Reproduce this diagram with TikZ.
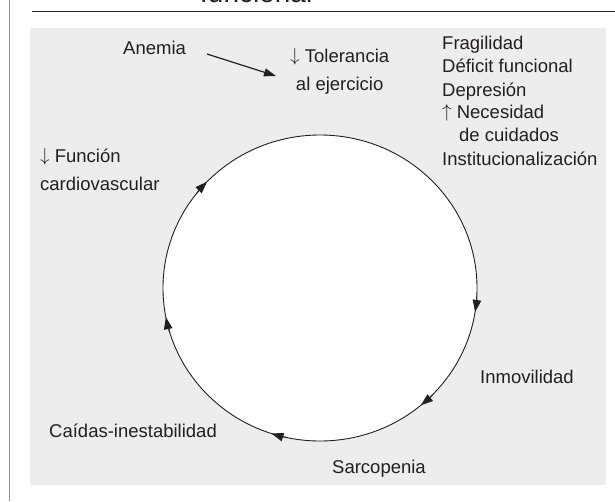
\documentclass[tikz,border=0pt]{standalone}
\usepackage{fontspec}
\usepackage{graphicx}
\setmainfont{Liberation Sans}
\usetikzlibrary{arrows.meta,calc}
\definecolor{bg}{RGB}{237,237,237}
\definecolor{ink}{RGB}{35,31,32}
\newcommand{\dn}{\raisebox{1pt}{\scalebox{1.1}[1.08]{$\downarrow$}}}
\newcommand{\upa}{\raisebox{1pt}{\scalebox{1.1}[1.08]{$\uparrow$}}}
\begin{document}
\begin{tikzpicture}[x=1pt,y=-1pt,
  lbl/.style={inner sep=0pt, font=\fontsize{18.5}{23}\selectfont, text=ink, anchor=base west},
  two/.style={lbl, font=\fontsize{18.5}{28}\selectfont},
  cyc/.style={draw=ink, line width=0.9pt, -{Triangle[length=12pt,width=8.5pt]}},
]
\useasboundingbox (0,0) rectangle (615,501);
\fill[white] (0,0) rectangle (615,501);
\draw[black!45, line width=0.8pt] (9,0) -- (9,501);
\begin{scope}
\clip (0,0) rectangle (615,501);
\node[inner sep=0pt, anchor=base west, font=\fontsize{28}{30}\selectfont, text=ink] (title) at (200,2) {funcional};
\end{scope}
\draw[ink, line width=1pt] (32,11) -- (615,11);
\fill[bg] (30,28) rectangle (606,485);
% cycle
\coordinate (c) at (320,288);
\filldraw[fill=white, draw=ink, line width=0.9pt] (c) ellipse [x radius=157, y radius=153];
\foreach \a in {9,50,108,169,224}{
  \draw[cyc] ($(c)+(\a-6:157 and 153)$) arc[start angle=\a-6, end angle=\a, x radius=157, y radius=153];
}
% labels
\node[lbl] (anemia) at (123,54) {Anemia};
\node[two, align=center] (tol) at (290,90) {\dn\ Tolerancia\\al ejercicio};
\coordinate (a1) at (207,54);
\coordinate (a2) at (276,76);
\draw[ink, line width=1.2pt, -{Triangle[length=12pt,width=8pt]}] (a1) -- (a2);

\node[lbl] (l1) at (442,49.3) {Fragilidad};
\node[lbl] (l2) at (442,72.7) {Déficit funcional};
\node[lbl] (l3) at (442,96) {Depresión};
\node[lbl] (l4) at (442,118.3) {\upa\ Necesidad};
\node[lbl] (l5) at (459,141.7) {de cuidados};
\node[lbl] (l6) at (442,165) {Institucionalización};

\node[two, align=left] (card) at (40,190) {\dn\ Función\\cardiovascular};
\node[lbl] (inmo) at (480,383) {Inmovilidad};
\node[lbl] (sarc) at (332,473) {Sarcopenia};
\node[lbl] (caid) at (49,437) {Caídas-inestabilidad};
\end{tikzpicture}
\end{document}
